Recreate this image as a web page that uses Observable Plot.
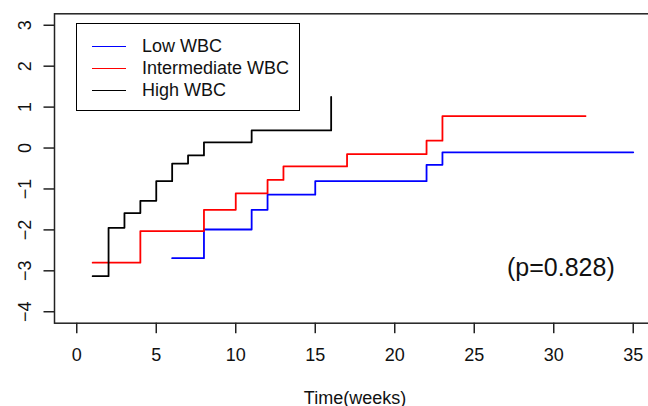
<!DOCTYPE html>
<html><head><meta charset="utf-8">
<script src="https://cdn.jsdelivr.net/npm/d3@7"></script>
<script src="https://cdn.jsdelivr.net/npm/@observablehq/plot@0.6"></script>
<style>
html,body{margin:0;padding:0;background:#fff;overflow:hidden}
#wrap{position:relative;width:648px;height:406px;font-family:"Liberation Sans",Arial,Helvetica,sans-serif}
.legend{position:absolute;left:76px;top:23px;width:224px;height:88px;border:1.5px solid #000;box-sizing:border-box;background:#fff}
.row{position:absolute;left:0;width:100%;height:22px}
.swatch{position:absolute;left:15px;top:10.5px;width:34px;height:0;border-top:1.6px solid}
.label{position:absolute;left:65px;top:0;white-space:nowrap;line-height:22px;font-size:18px;color:#111}
</style></head>
<body><div id="wrap"></div>
<script>
// ---- data ----
const seriesNames = ["Low WBC", "Intermediate WBC", "High WBC"];
const seriesColors = ["#0000ff", "#ff0000", "#000000"];

const lowTime  = [6, 8, 11, 12, 15, 22, 23, 35];
const lowValue = [-2.69, -1.99, -1.51, -1.14, -0.81, -0.41, -0.105, -0.105];

const intTime  = [1, 4, 8, 10, 12, 13, 17, 22, 23, 32];
const intValue = [-2.80, -2.03, -1.51, -1.11, -0.78, -0.45, -0.15, 0.18, 0.78, 0.78];

const highTime  = [1, 2, 3, 4, 5, 6, 7, 8, 11, 16];
const highValue = [-3.13, -1.95, -1.59, -1.29, -0.81, -0.38, -0.18, 0.14, 0.43, 1.25];

const xTicks = [0, 5, 10, 15, 20, 25, 30, 35];
const yTicks = [-4, -3, -2, -1, 0, 1, 2, 3];
const xLabel = "Time(weeks)";
const pText = "(p=0.828)";
const pX = 30.45, pY = -2.92;

// ---- build table ----
const rows = [];
[[lowTime, lowValue], [intTime, intValue], [highTime, highValue]].forEach(([T, V], i) => {
  T.forEach((t, j) => rows.push({t, v: V[j], group: seriesNames[i]}));
});

const fmt = d3.format("d");

const chart = Plot.plot({
  width: 648,
  height: 406,
  marginLeft: 54,
  marginRight: -7,
  marginTop: 13.3,
  marginBottom: 83.3,
  style: {fontFamily: '"Liberation Sans", Arial, Helvetica, sans-serif', fontSize: "18px", color: "#111", background: "#fff"},
  x: {domain: [-1.4, 36.4]},
  y: {domain: [-4.28, 3.28]},
  color: {domain: seriesNames, range: seriesColors},
  marks: [
    Plot.line(rows, {x: "t", y: "v", z: "group", stroke: "group", curve: "step-after", strokeWidth: 1.8}),
    Plot.frame({stroke: "#222", strokeWidth: 1.5}),
    Plot.axisX(xTicks, {tickSize: 10.5, tickPadding: 15, fontSize: 18, label: null, stroke: "#222", strokeWidth: 1.5, tickFormat: fmt}),
    Plot.axisY(yTicks, {tickSize: 10.5, label: null, stroke: "#222", strokeWidth: 1.5, tickFormat: () => ""}),
    Plot.text(yTicks, {y: d => d, text: d => fmt(d), frameAnchor: "left", dx: -24, rotate: -90, textAnchor: "middle", lineAnchor: "bottom", fontSize: 18, fill: "#111"}),
    Plot.text([xLabel], {text: d => d, frameAnchor: "bottom", dy: 80.3, lineAnchor: "bottom", fontSize: 18, fill: "#111"}),
    Plot.text([pText], {x: () => pX, y: () => pY, text: d => d, fontSize: 25, fill: "#111"})
  ]
});
const wrap = document.getElementById("wrap");
wrap.appendChild(chart);

// legend (HTML overlay)
const leg = document.createElement("div");
leg.className = "legend";
seriesNames.forEach((name, i) => {
  const r = document.createElement("div");
  r.className = "row";
  r.style.top = (11 + i * 22.2) + "px";
  const s = document.createElement("div");
  s.className = "swatch";
  s.style.borderTopColor = seriesColors[i];
  const l = document.createElement("div");
  l.className = "label";
  l.textContent = name;
  r.appendChild(s); r.appendChild(l);
  leg.appendChild(r);
});
wrap.appendChild(leg);
</script>
</body></html>
